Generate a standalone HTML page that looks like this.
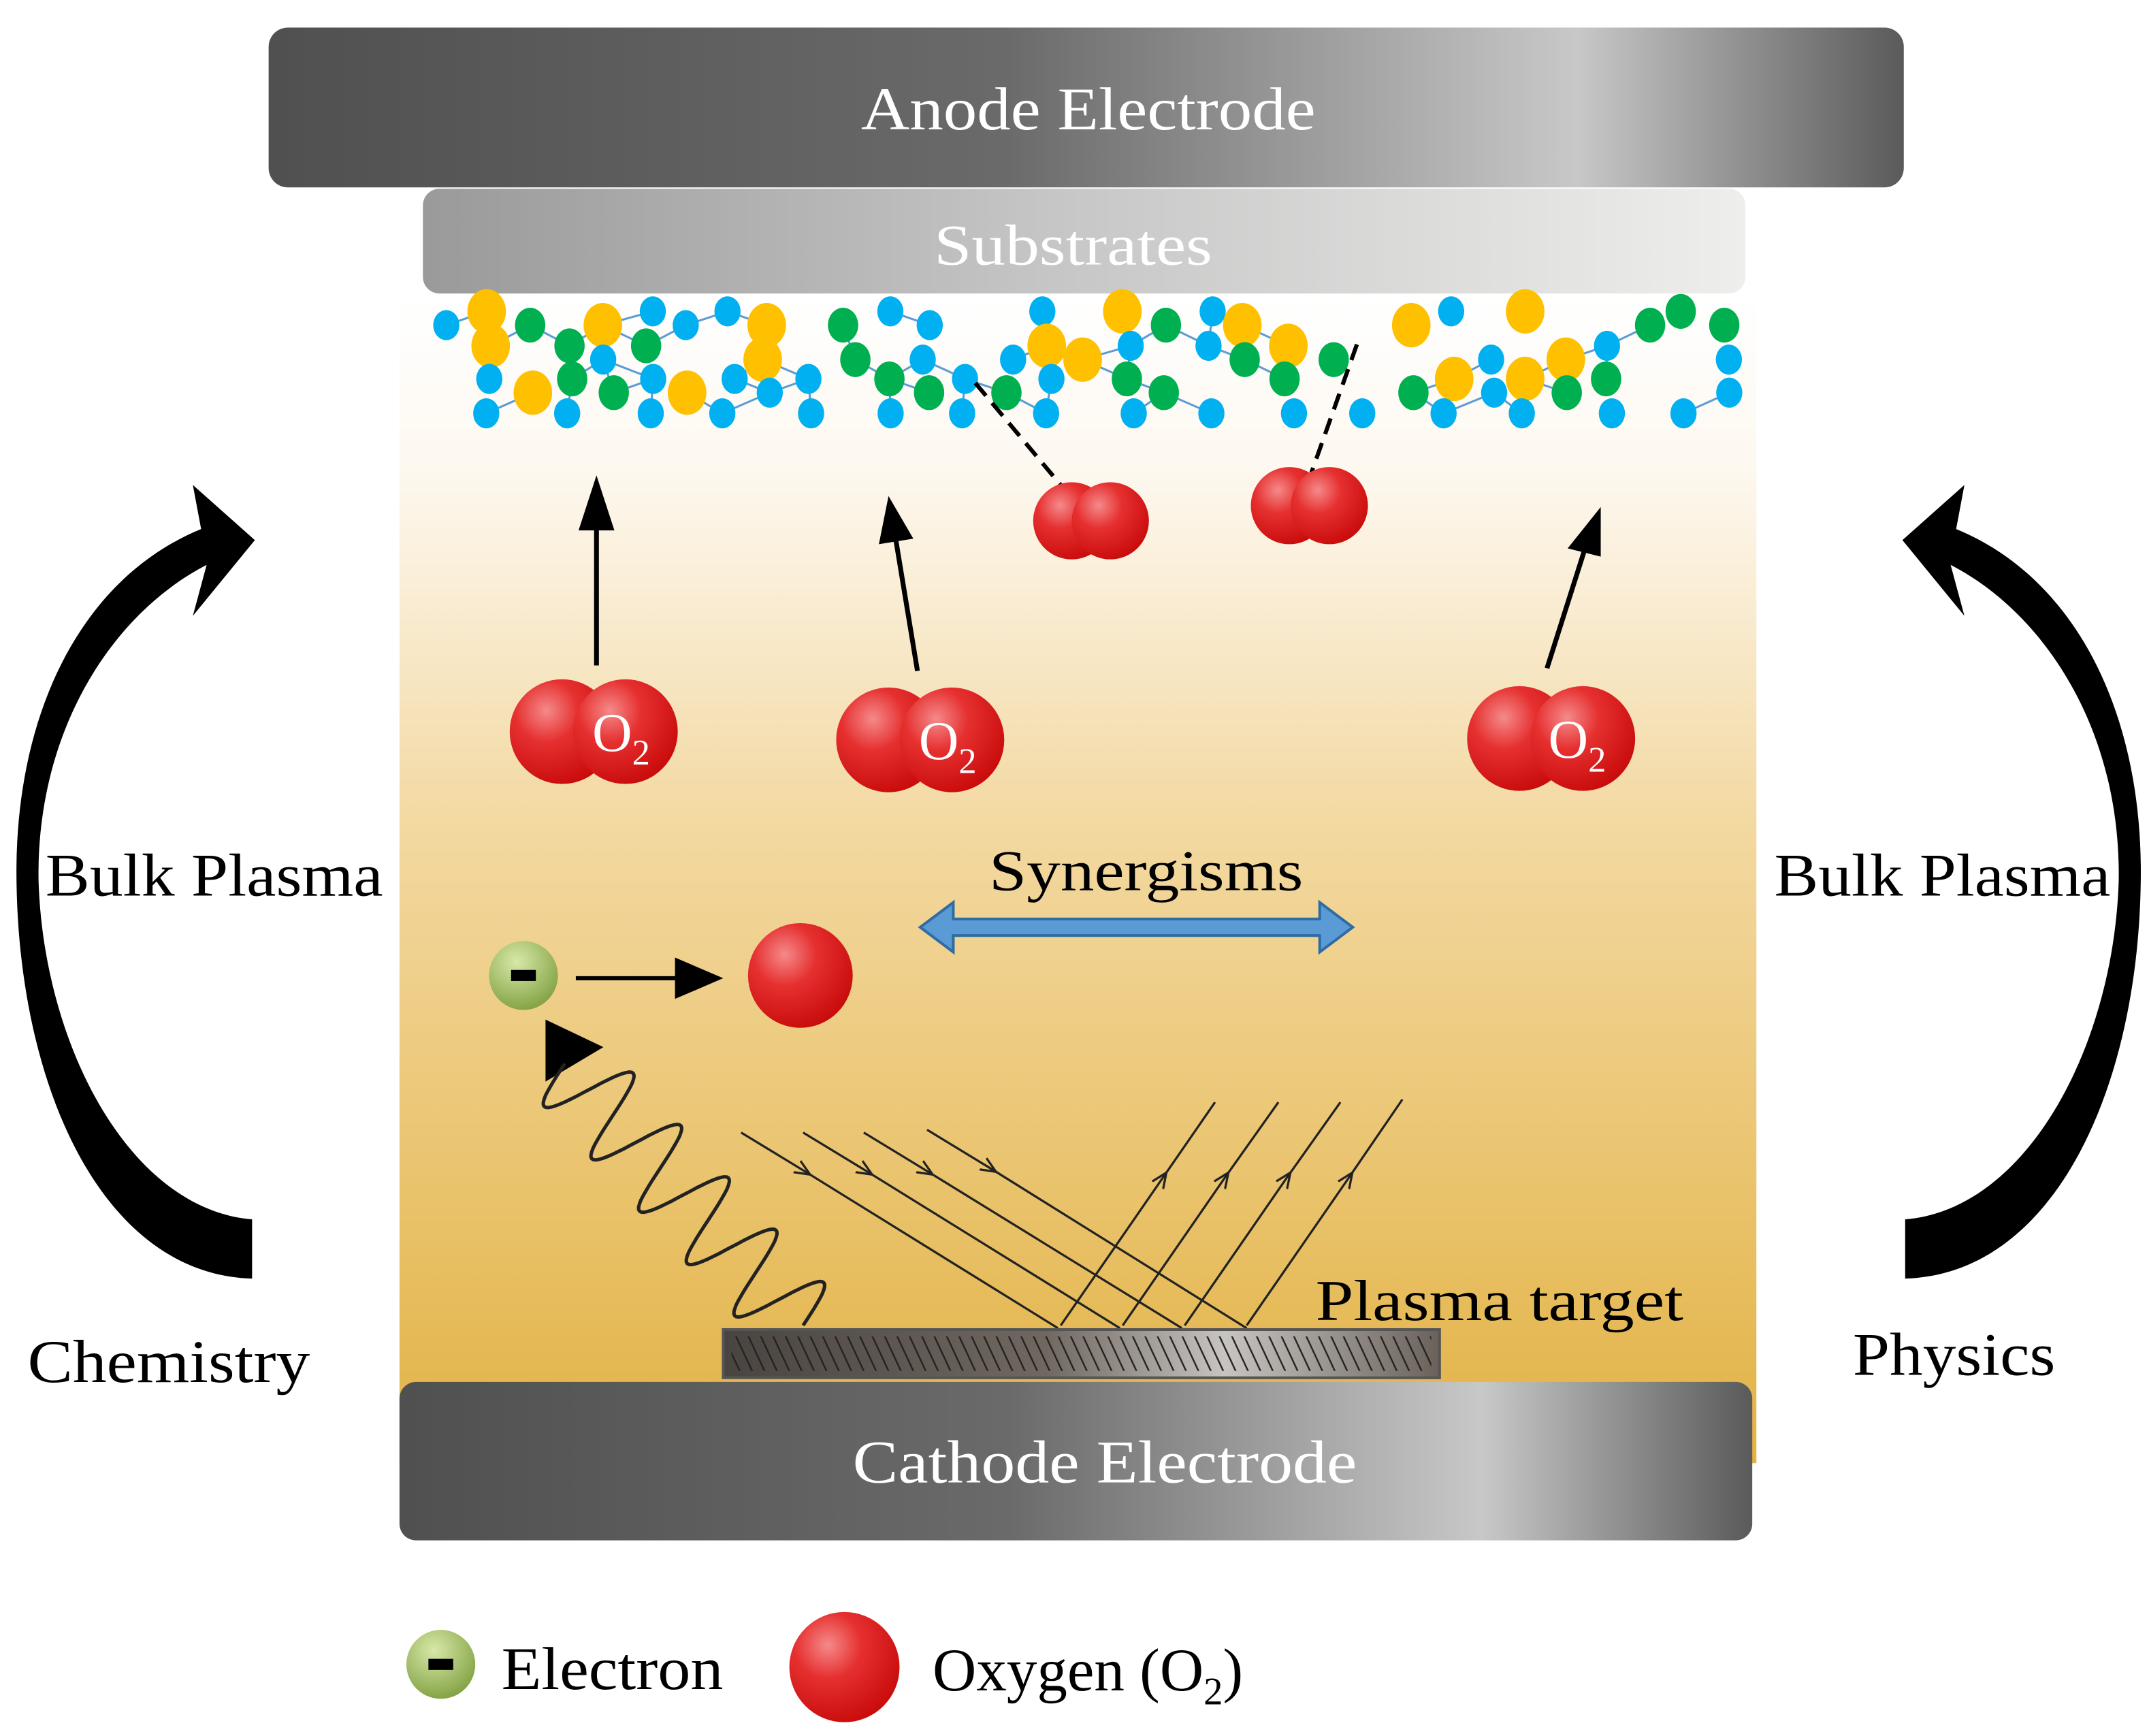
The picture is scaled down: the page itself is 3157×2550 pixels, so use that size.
<!DOCTYPE html>
<html><head><meta charset="utf-8"><style>html,body{margin:0;padding:0;background:#fff}svg{display:block}text{font-family:"Liberation Serif",serif}</style></head>
<body>
<svg id="s" width="3157" height="2550" viewBox="0 0 1560 1260" preserveAspectRatio="none" xmlns="http://www.w3.org/2000/svg">
<defs>
<linearGradient id="el" x1="0" x2="1" y1="0" y2="0">
<stop offset="0" stop-color="#505050"/><stop offset="0.45" stop-color="#6a6a6a"/><stop offset="0.8" stop-color="#c8c8c8"/><stop offset="1" stop-color="#5a5a5a"/></linearGradient>
<linearGradient id="sub" x1="0" x2="1"><stop offset="0" stop-color="#9a9a9a"/><stop offset="0.5" stop-color="#c8c8c8"/><stop offset="1" stop-color="#eeeeec"/></linearGradient>
<linearGradient id="pl" x1="0" x2="0" y1="0" y2="1"><stop offset="0" stop-color="#ffffff"/><stop offset="0.15" stop-color="#fdf8f0"/><stop offset="0.45" stop-color="#f3d9a2"/><stop offset="1" stop-color="#e2b244"/></linearGradient>
<radialGradient id="red" cx="0.35" cy="0.3" r="0.75"><stop offset="0" stop-color="#f58a8a"/><stop offset="0.4" stop-color="#e63030"/><stop offset="1" stop-color="#c80a0a"/></radialGradient>
<radialGradient id="grn" cx="0.4" cy="0.3" r="0.75"><stop offset="0" stop-color="#d8e8a8"/><stop offset="1" stop-color="#7fa040"/></radialGradient>
<linearGradient id="tg" x1="0" x2="1"><stop offset="0" stop-color="#4a4440"/><stop offset="0.45" stop-color="#706860"/><stop offset="0.7" stop-color="#c8c4c0"/><stop offset="1" stop-color="#6a625a"/></linearGradient>
<pattern id="hatch" width="9" height="40" patternUnits="userSpaceOnUse" patternTransform="skewX(25)"><rect width="9" height="40" fill="none"/><line x1="1" y1="0" x2="1" y2="40" stroke="#222" stroke-width="1.3"/></pattern>
<marker id="mh" markerWidth="8" markerHeight="8" refX="4" refY="4" orient="auto"><path d="M0,1 L7,4 L0,7" fill="none" stroke="#222" stroke-width="1"/></marker>
</defs>
<rect x="290" y="212" width="985" height="850" fill="url(#pl)"/>
<rect x="195" y="20" width="1187" height="116" rx="14" fill="url(#el)"/>
<text x="625" y="94" font-size="44" fill="#fff" textLength="330" lengthAdjust="spacingAndGlyphs">Anode Electrode</text>
<rect x="307" y="137" width="960" height="76" rx="12" fill="url(#sub)"/>
<text x="678" y="192" font-size="42" fill="#fff" textLength="202" lengthAdjust="spacingAndGlyphs">Substrates</text>
<g id="mol"></g>
<line x1="708" y1="278" x2="770" y2="352" stroke="#000" stroke-width="3" stroke-dasharray="12,7"/>
<line x1="985" y1="250" x2="952" y2="343" stroke="#000" stroke-width="3" stroke-dasharray="12,7"/>
<circle cx="778" cy="378" r="28" fill="url(#red)"/><circle cx="806" cy="378" r="28" fill="url(#red)"/>
<circle cx="936" cy="367" r="28" fill="url(#red)"/><circle cx="965" cy="367" r="28" fill="url(#red)"/>
<g stroke="#000" stroke-width="3.5" fill="#000">
<line x1="433" y1="483" x2="433" y2="380"/><polygon points="433,345 420,385 446,385" stroke="none"/>
<line x1="666" y1="487" x2="650" y2="390"/><polygon points="645,360 638,395 663,391" stroke="none"/>
<line x1="1123" y1="485" x2="1150" y2="400"/><polygon points="1162,368 1138,398 1162,404" stroke="none"/>
</g>
<g font-size="40" fill="#fff">
<circle cx="408" cy="531" r="38" fill="url(#red)"/><circle cx="454" cy="531" r="38" fill="url(#red)"/><text x="430" y="545">O<tspan font-size="26" dy="10">2</tspan></text>
<circle cx="645" cy="537" r="38" fill="url(#red)"/><circle cx="691" cy="537" r="38" fill="url(#red)"/><text x="667" y="551">O<tspan font-size="26" dy="10">2</tspan></text>
<circle cx="1103" cy="536" r="38" fill="url(#red)"/><circle cx="1149" cy="536" r="38" fill="url(#red)"/><text x="1124" y="550">O<tspan font-size="26" dy="10">2</tspan></text>
</g>
<text x="718" y="646" font-size="42" textLength="228" lengthAdjust="spacingAndGlyphs">Synergisms</text>
<polygon points="668,673 692,655 692,667 958,667 958,655 982,673 958,691 958,679 692,679 692,691" fill="#5b9bd5" stroke="#2e6da4" stroke-width="2"/>
<circle cx="380" cy="708" r="25" fill="url(#grn)"/><rect x="371" y="704" width="18" height="8" fill="#000"/>
<line x1="418" y1="710" x2="495" y2="710" stroke="#000" stroke-width="3"/><polygon points="525,710 490,695 490,725"/>
<circle cx="581" cy="708" r="38" fill="url(#red)"/>
<polygon points="396,740 438,760 396,785"/>
<path id="wave" fill="none" stroke="#222" stroke-width="2.5"/>
<g stroke="#222" stroke-width="1.6" marker-mid="url(#mh)">
<polyline points="538,822 584,850 768,964"/><polyline points="583,822 629,850 813,964"/><polyline points="627,822 673,850 858,964"/><polyline points="673,820 719,848 905,964"/>
<polyline points="770,962 844,855 882,800"/><polyline points="815,962 889,855 928,800"/><polyline points="860,962 934,855 973,800"/><polyline points="905,962 979,855 1018,798"/>
</g>
<rect x="525" y="965" width="520" height="35" fill="url(#tg)" stroke="#555" stroke-width="2"/>
<rect x="531" y="970" width="508" height="25" fill="url(#hatch)"/>
<text x="955" y="958" font-size="42" textLength="267" lengthAdjust="spacingAndGlyphs">Plasma target</text>
<rect x="290" y="1003" width="982" height="115" rx="12" fill="url(#el)"/>
<text x="619" y="1076" font-size="44" fill="#fff" textLength="366" lengthAdjust="spacingAndGlyphs">Cathode Electrode</text>
<g id="ca"><path d="M183,928 L183,885 C95,878 32,760 28,640 C26,530 82,445 150,410 L140,447 L185,392 L140,352 L146,384 C58,420 10,520 12,640 C14,790 75,925 183,928 Z" fill="#000"/></g>
<use href="#ca" transform="translate(1566,0) scale(-1,1)"/>
<g font-size="44">
<text x="33" y="650" textLength="245" lengthAdjust="spacingAndGlyphs">Bulk Plasma</text>
<text x="20" y="1003" textLength="205" lengthAdjust="spacingAndGlyphs">Chemistry</text>
<text x="1288" y="650" textLength="244" lengthAdjust="spacingAndGlyphs">Bulk Plasma</text>
<text x="1345" y="998" textLength="147" lengthAdjust="spacingAndGlyphs">Physics</text>
</g>
<circle cx="320" cy="1208" r="25" fill="url(#grn)"/><rect x="311" y="1204" width="18" height="8" fill="#000"/>
<text x="364" y="1226" font-size="44" textLength="161" lengthAdjust="spacingAndGlyphs">Electron</text>
<circle cx="613" cy="1210" r="40" fill="url(#red)"/>
<text x="677" y="1227" font-size="44">Oxygen (O<tspan font-size="28" dy="10">2</tspan><tspan dy="-10">)</tspan></text>
</svg>
<script>
(function(){
var g=document.getElementById('mol'),ns='http://www.w3.org/2000/svg';
var seed=11;function r(){seed=(seed*9301+49297)%233280;return seed/233280;}
var cols=['#00b0f0','#ffc000','#00b050'];
var pts=[];
var ys=[230,255,279,300];
var ci=0;
for(var x=326;x<1258;x+=29){
 ci++;
 for(var k=0;k<4;k++){
  var c;
  if(k===3){ if(ci%2)continue; c=0; }
  else { if(r()<0.3)continue; var q=r(); c=q<0.38?1:(q<0.7?2:0); }
  var yy=ys[k]+(k===3?0:(ci%2?6:-4));
  pts.push([x+(r()-0.5)*10,yy,c]);
 }
}
for(var i=0;i<pts.length;i++)for(var j=i+1;j<pts.length;j++){
 var dx=pts[i][0]-pts[j][0],dy=pts[i][1]-pts[j][1];
 if(dx*dx+dy*dy<40*40&&r()<0.5){var l=document.createElementNS(ns,'line');
 l.setAttribute('x1',pts[i][0]);l.setAttribute('y1',pts[i][1]);l.setAttribute('x2',pts[j][0]);l.setAttribute('y2',pts[j][1]);
 l.setAttribute('stroke','#5b9bd5');l.setAttribute('stroke-width','1.5');g.appendChild(l);}
}
pts.forEach(function(p){var c=document.createElementNS(ns,'ellipse');c.setAttribute('cx',p[0]);c.setAttribute('cy',p[1]);
 var rr=p[2]==1?14:(p[2]==2?11:9.5);c.setAttribute('rx',rr);c.setAttribute('ry',rr*1.15);c.setAttribute('fill',cols[p[2]]);g.appendChild(c);});
var x0=583,y0=962,x1=410,y1=772,n=200,d='';
var L=Math.hypot(x1-x0,y1-y0),ux=(x1-x0)/L,uy=(y1-y0)/L,px=-uy,py=ux;
for(var i=0;i<=n;i++){var t=i/n,a=Math.sin(t*Math.PI*2*5)*32;
 var X=x0+(x1-x0)*t+px*a,Y=y0+(y1-y0)*t+py*a;d+=(i?'L':'M')+X.toFixed(1)+','+Y.toFixed(1);}
document.getElementById('wave').setAttribute('d',d);
})();
</script>
</body></html>
